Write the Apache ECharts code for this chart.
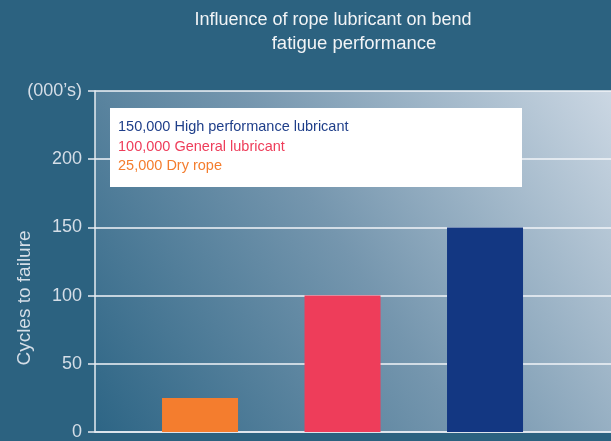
<!DOCTYPE html>
<html><head><meta charset="utf-8">
<script src="https://cdn.jsdelivr.net/npm/echarts@6/dist/echarts.min.js"></script>
<style>html,body{margin:0;padding:0;background:#2C6280;}#c{width:611px;height:441px;}</style>
</head><body><div id="c"></div>
<script>
var categories = ['Dry rope', 'General lubricant', 'High performance lubricant'];
var values = [25, 100, 150]; // thousands of cycles
var yTicks = [0, 50, 100, 150, 200, 250];
var topTickLabel = "(000\u2019s)";
var titleLines = ['Influence of rope lubricant on bend', 'fatigue performance'];
var yAxisTitle = 'Cycles to failure';
var barColors = ['#F47D2E', '#EE3D5A', '#133782'];
var legendColors = ['#1F3F8A', '#EE3D5A', '#F47D2E'];
var FONT = '"Liberation Sans", Arial, sans-serif';

var chart = echarts.init(document.getElementById('c'));
function fmt(v){ return (v*1000).toLocaleString('en-US'); }
var legendLines = [];
for (var i = categories.length - 1; i >= 0; i--) {
  legendLines.push({ text: fmt(values[i]) + ' ' + categories[i], color: legendColors[categories.length-1-i] });
}
var graphics = [{
  type: 'rect', z: 100, shape: { x: 110, y: 108, width: 412, height: 79 },
  style: { fill: '#ffffff' }
}];
legendLines.forEach(function(l, k){
  graphics.push({ type: 'text', z: 101, x: 118, y: 127 + k*19.5,
    style: { text: l.text, fill: l.color, font: '14.5px ' + FONT, textVerticalAlign: 'middle' } });
});
graphics.push({ type: 'text', z: 101, x: 333, y: 20,
  style: { text: titleLines[0], fill: '#F2F4F6', font: '18px ' + FONT, textAlign: 'center', textVerticalAlign: 'middle' } });
graphics.push({ type: 'text', z: 101, x: 354, y: 44,
  style: { text: titleLines[1], fill: '#F2F4F6', font: '18.5px ' + FONT, textAlign: 'center', textVerticalAlign: 'middle' } });
graphics.push({ type: 'text', z: 101, x: 25, y: 298, rotation: Math.PI/2,
  style: { text: yAxisTitle, fill: '#D5DEE7', font: '19px ' + FONT, textAlign: 'center', textVerticalAlign: 'middle' } });

chart.setOption({
  animation: false,
  backgroundColor: '#2C6280',
  grid: {
    left: 95, right: 0, top: 91, bottom: 5, show: true, borderWidth: 0,
    backgroundColor: { type: 'linear', x: 0, y: 1, x2: 1, y2: 0, colorStops: [
      { offset: 0, color: '#2D6585' }, { offset: 0.5, color: '#7596AE' }, { offset: 1, color: '#CBD7E3' } ] }
  },
  xAxis: {
    type: 'value', min: 0.263, max: 3.884,
    axisLine: { show: true, onZero: false, lineStyle: { color: '#E6ECF2', width: 1.5 } },
    axisTick: { show: false }, axisLabel: { show: false }, splitLine: { show: false }
  },
  yAxis: {
    type: 'value', min: yTicks[0], max: yTicks[yTicks.length-1], interval: 50,
    axisLine: { show: true, lineStyle: { color: '#E6ECF2', width: 1.5 } },
    axisTick: { show: true, length: 7, lineStyle: { color: '#E6ECF2', width: 1.5 } },
    axisLabel: { color: '#D5DEE7', fontSize: 18, fontFamily: FONT, margin: 13,
      formatter: function(v){ return v === yTicks[yTicks.length-1] ? topTickLabel : String(v); } },
    splitLine: { show: true, lineStyle: { color: '#F2F5F8', width: 1.5 } }
  },
  series: [{
    type: 'bar', barWidth: 76,
    data: values.map(function(v, i){ return { value: [i+1, v], itemStyle: { color: barColors[i] } }; })
  }],
  graphic: graphics
});
</script></body></html>
